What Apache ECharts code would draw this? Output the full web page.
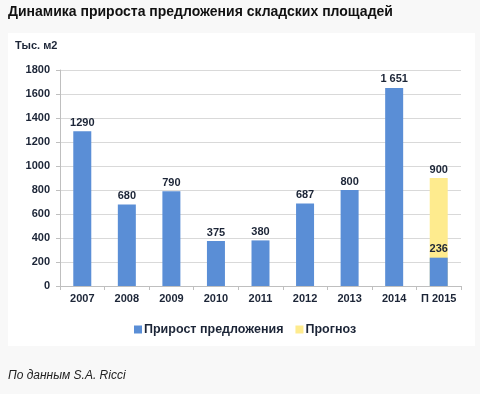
<!DOCTYPE html>
<html><head><meta charset="utf-8">
<script src="https://cdn.jsdelivr.net/npm/echarts@6/dist/echarts.min.js"></script>
<style>html,body{margin:0;padding:0;background:#f8f8f8;}#c{width:480px;height:394px;}</style>
</head><body><div id="c"></div>
<script>
const categories = ['2007','2008','2009','2010','2011','2012','2013','2014','П 2015'];
const supplyValues = [1290, 680, 790, 375, 380, 687, 800, 1651, 236];
const supplyLabels = ['1290','680','790','375','380','687','800','1 651','236'];
const forecastValues = [null, null, null, null, null, null, null, null, 900];
const yTicks = [0, 200, 400, 600, 800, 1000, 1200, 1400, 1600, 1800];

const chart = echarts.init(document.getElementById('c'), null, {renderer:'canvas'});
const font = '"Liberation Sans", Arial, sans-serif';
const dark = '#1c2537';
chart.setOption({
  animation:false,
  backgroundColor:'#f8f8f8',
  textStyle:{fontFamily:font},
  graphic:[
    {type:'rect', shape:{x:8,y:33,width:467,height:313}, style:{fill:'#ffffff'}, z:-10},
    {type:'text', left:8, top:5, style:{text:'Динамика прироста предложения складских площадей', font:'bold 14px '+font, fill:'#111111'}},
    {type:'text', left:15, top:40, style:{text:'Тыс. м2', font:'bold 11px '+font, fill:dark}},
    {type:'text', left:8, top:370, style:{text:'По данным S.A. Ricci', font:'italic 12px '+font, fill:'#222222'}}
  ],
  grid:{left:60, right:19, top:70, bottom:108, containLabel:false},
  legend:{
    data:['Прирост предложения','Прогноз'],
    top:318, left:129, itemWidth:8, itemHeight:8, itemGap:12, icon:'rect',
    textStyle:{fontFamily:font, fontWeight:'bold', fontSize:12.5, color:dark, padding:[0,0,0,-3]}
  },
  xAxis:{
    type:'category', data:categories,
    axisLine:{lineStyle:{color:'#bfbfbf'}},
    axisTick:{show:true, length:4, lineStyle:{color:'#bfbfbf'}},
    axisLabel:{interval:0, fontFamily:font, fontWeight:'bold', fontSize:11, color:dark, margin:7}
  },
  yAxis:{
    type:'value', min:0, max:1800, interval:200,
    axisLine:{show:true, lineStyle:{color:'#bfbfbf'}},
    axisTick:{show:true, length:4, lineStyle:{color:'#bfbfbf'}},
    splitLine:{lineStyle:{color:'#d9d9d9'}},
    axisLabel:{fontFamily:font, fontWeight:'bold', fontSize:11, color:dark, margin:10,
      formatter:v=>yTicks.includes(v)?String(v):''}
  },
  series:[
    {name:'Прогноз', type:'bar', data:forecastValues, barWidth:18, barGap:'-100%', z:2,
      itemStyle:{color:'#feeb8e'},
      label:{show:true, position:'top', distance:3, fontFamily:font, fontWeight:'bold', fontSize:11, color:dark}},
    {name:'Прирост предложения', type:'bar', data:supplyValues, barWidth:18, z:3,
      itemStyle:{color:'#5a8ed6'},
      label:{show:true, position:'top', distance:3, fontFamily:font, fontWeight:'bold', fontSize:11, color:dark,
        formatter:p=>supplyLabels[p.dataIndex]}}
  ]
});
</script></body></html>
